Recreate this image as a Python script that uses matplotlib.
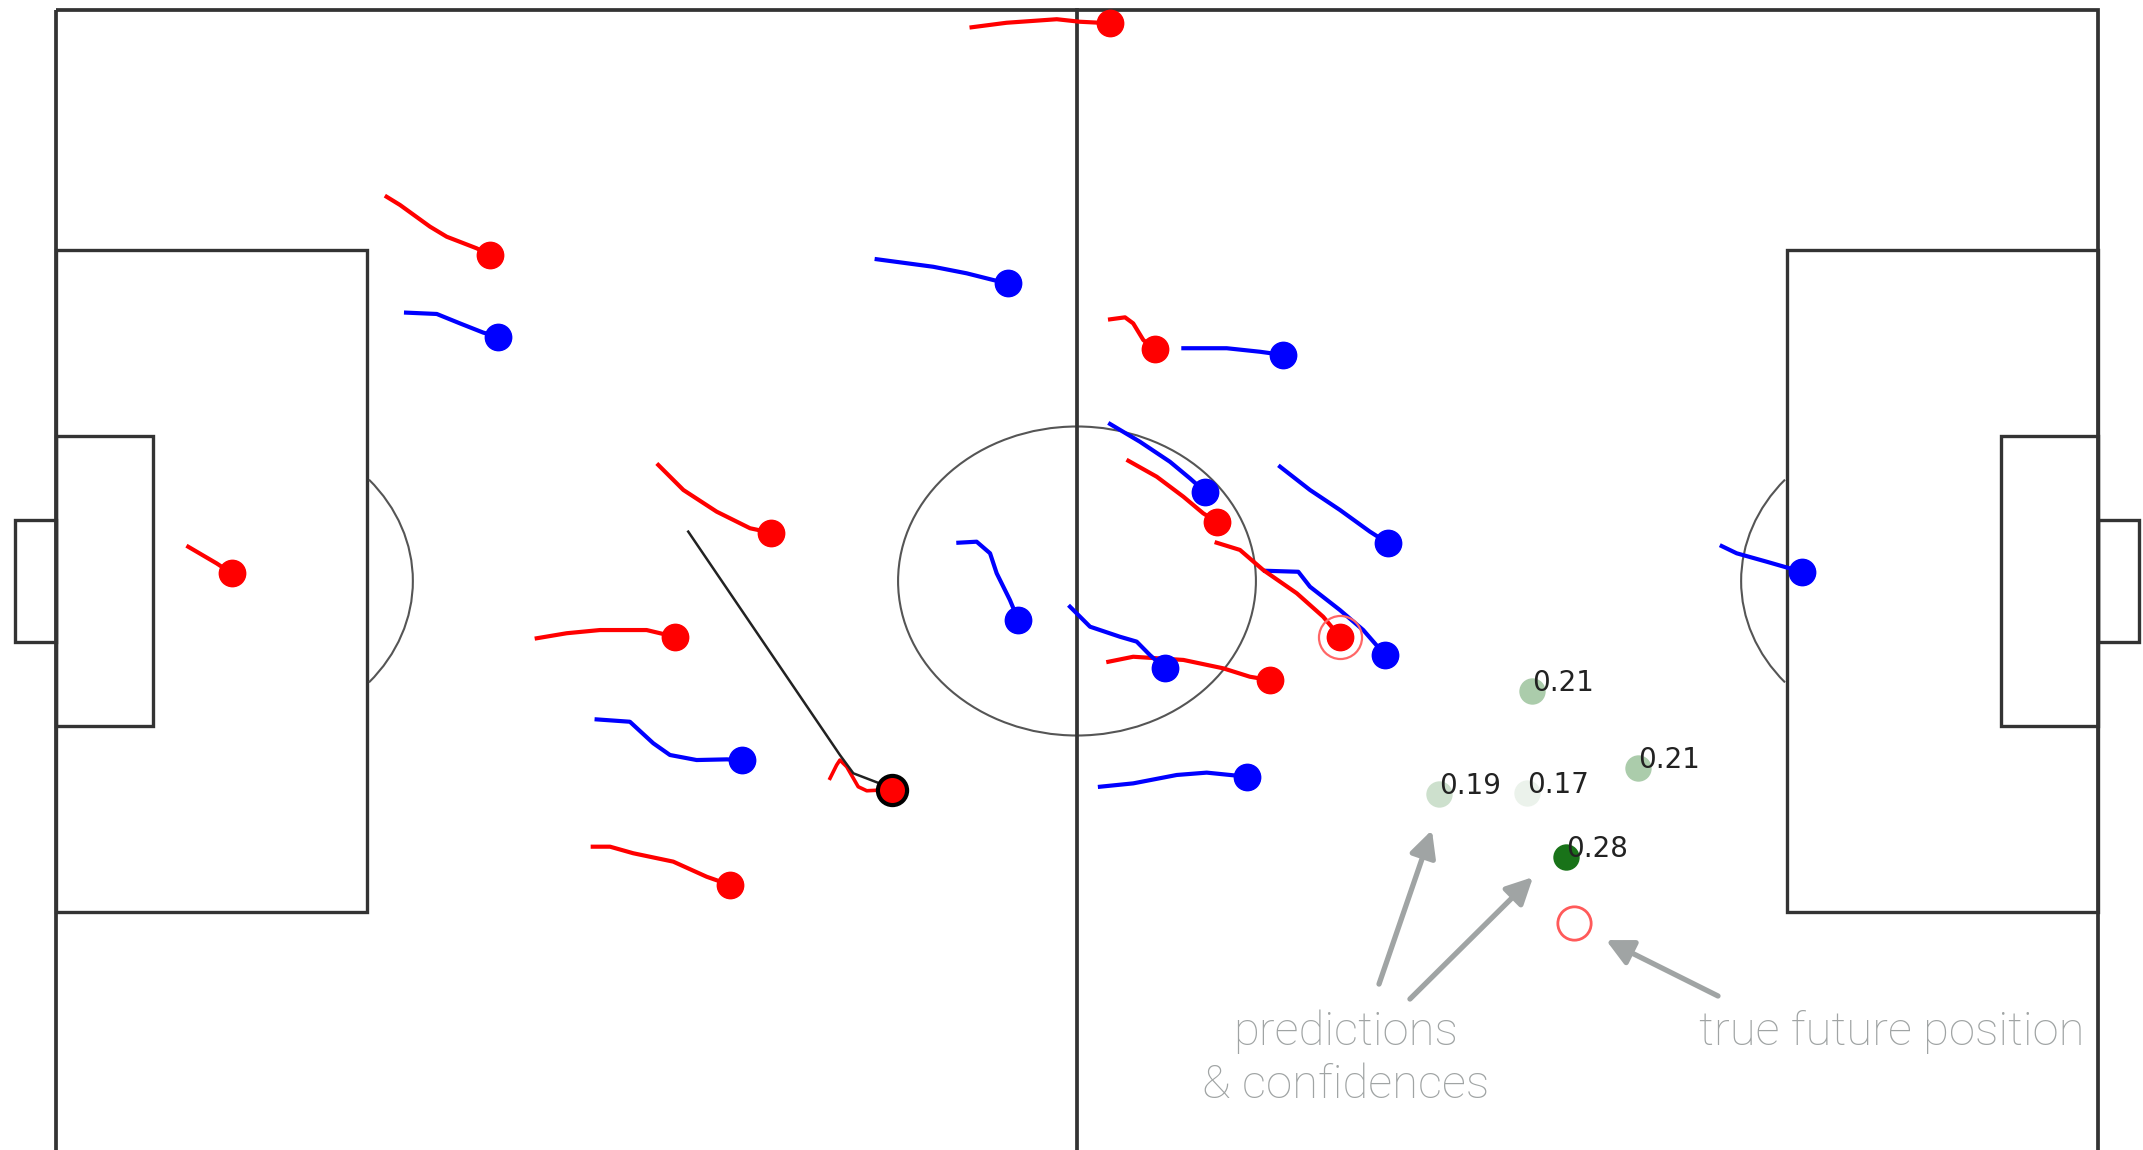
import matplotlib.pyplot as plt
from matplotlib.patches import Rectangle, Arc, Circle

# pitch size (m) and markings
pitch_len = 105.0
pitch_wid = 68.0
box_depth = 16.0
box_wid = 39.4
six_depth = 5.0
six_wid = 17.3
goal_wid = 7.3
goal_depth = 2.1
circle_r = 9.2
spot_dist = 9.15

# player tracks (m), last point = current position
red_tracks = [
    [(17.00, 11.12), (17.69, 11.61), (19.23, 12.90), (20.09, 13.50), (21.63, 14.19), (22.32, 14.59)],
    [(30.97, 27.09), (32.26, 28.58), (33.97, 29.87), (35.69, 30.86), (36.75, 31.12)],
    [(24.72, 37.41), (26.26, 37.11), (27.97, 36.92), (30.37, 36.92), (31.06, 37.11), (31.83, 37.32)],
    [(27.60, 49.82), (28.49, 49.82), (29.68, 50.21), (31.74, 50.71), (33.46, 51.61), (34.66, 52.10)],
    [(54.20, 18.42), (54.97, 18.30), (55.39, 18.66), (55.91, 19.65), (56.51, 20.20)],
    [(55.14, 26.84), (56.60, 27.79), (57.97, 28.98), (58.99, 29.97), (59.68, 30.47)],
    [(54.11, 38.81), (55.39, 38.51), (57.97, 38.70), (60.02, 39.20), (61.39, 39.70), (62.42, 39.90)],
    [(6.80, 31.96), (8.26, 32.95), (9.03, 33.54)],
    [(47.08, 1.03), (48.88, 0.76), (51.46, 0.55), (52.65, 0.70), (54.20, 0.79)],
]
blue_tracks = [
    [(18.00, 18.02), (19.58, 18.10), (20.77, 18.66), (21.97, 19.21), (22.74, 19.45)],
    [(27.80, 42.24), (29.51, 42.38), (30.71, 43.66), (31.57, 44.36), (32.94, 44.66), (34.49, 44.62), (35.26, 44.66)],
    [(42.20, 14.84), (45.11, 15.29), (46.83, 15.68), (48.20, 16.08), (48.97, 16.27)],
    [(57.97, 20.14), (60.20, 20.14), (61.91, 20.35), (63.11, 20.54)],
    [(54.20, 24.65), (55.74, 25.71), (57.28, 26.90), (58.31, 27.89), (59.08, 28.68)],
    [(46.40, 31.72), (47.34, 31.66), (48.03, 32.35), (48.37, 33.54), (49.05, 35.13), (49.48, 36.32)],
    [(62.94, 27.19), (64.48, 28.58), (66.02, 29.77), (67.56, 31.06), (68.51, 31.76)],
    [(62.17, 33.39), (63.88, 33.45), (64.48, 34.34), (66.02, 35.73), (67.22, 36.92), (68.34, 38.41)],
    [(52.14, 35.53), (53.17, 36.72), (54.71, 37.32), (55.57, 37.61), (56.25, 38.41), (57.02, 39.20)],
    [(53.68, 46.25), (55.39, 46.05), (57.63, 45.55), (59.17, 45.41), (60.37, 45.55), (61.22, 45.65)],
    [(85.65, 31.92), (86.42, 32.35), (87.96, 32.85), (89.76, 33.45)],
]
# player on the ball
carrier_track = [(39.80, 45.75), (40.14, 44.96), (40.31, 44.66), (40.66, 45.06), (41.25, 46.25),
                 (41.69, 46.49), (42.37, 46.45), (42.97, 46.45)]
ball_track = [(32.51, 31.06), (40.31, 44.36), (41.00, 45.45), (42.80, 46.25), (42.97, 46.45)]
# player whose future is predicted
target_track = [(59.68, 31.72), (60.88, 32.15), (62.08, 33.35), (63.80, 34.73), (65.16, 36.13), (66.02, 37.32)]

pred_x = [75.90, 81.35, 71.11, 75.64, 77.64]
pred_y = [40.55, 45.14, 46.68, 46.62, 50.44]
pred_conf = [0.21, 0.21, 0.19, 0.17, 0.28]
true_pos = (78.05, 54.37)

line_col = '#333333'
note_col = '#a0a4a4'

fig = plt.figure(figsize=(21.43, 11.5), dpi=100)
ax = fig.add_axes([0, 0, 1, 1])

# pitch
ax.add_patch(Rectangle((0, 0), pitch_len, pitch_wid, fill=False, ec=line_col, lw=2.7))
ax.plot([pitch_len / 2, pitch_len / 2], [0, pitch_wid], color=line_col, lw=2.7)
ax.add_patch(Circle((pitch_len / 2, pitch_wid / 2), circle_r, fill=False, ec='#555555', lw=1.5))
for side in [0, 1]:
    if side == 0:
        bx, sx, gx = 0, 0, -goal_depth
        spot = spot_dist
        t1, t2 = -41, 41
    else:
        bx, sx, gx = pitch_len - box_depth, pitch_len - six_depth, pitch_len
        spot = pitch_len - spot_dist
        t1, t2 = 139, 221
    ax.add_patch(Rectangle((bx, (pitch_wid - box_wid) / 2), box_depth, box_wid, fill=False, ec=line_col, lw=2.4))
    ax.add_patch(Rectangle((sx, (pitch_wid - six_wid) / 2), six_depth, six_wid, fill=False, ec=line_col, lw=2.4))
    ax.add_patch(Rectangle((gx, (pitch_wid - goal_wid) / 2), goal_depth, goal_wid, fill=False, ec=line_col, lw=2.4))
    ax.add_patch(Arc((spot, pitch_wid / 2), 2 * circle_r, 2 * circle_r, theta1=t1, theta2=t2, ec='#555555', lw=1.5))

# tracks + players
for trk in red_tracks:
    xs = [p[0] for p in trk]
    ys = [p[1] for p in trk]
    ax.plot(xs, ys, color='red', lw=3, zorder=3)
    ax.plot(xs[-1], ys[-1], 'o', color='red', ms=19, zorder=4)
for trk in blue_tracks:
    xs = [p[0] for p in trk]
    ys = [p[1] for p in trk]
    ax.plot(xs, ys, color='blue', lw=3, zorder=3)
    ax.plot(xs[-1], ys[-1], 'o', color='blue', ms=19, zorder=4)

xs = [p[0] for p in target_track]
ys = [p[1] for p in target_track]
ax.plot(xs, ys, color='red', lw=3, zorder=3)
ax.plot(xs[-1], ys[-1], 'o', color='red', ms=19, zorder=4)
ax.plot(xs[-1], ys[-1], 'o', mfc='none', mec='#ff6666', ms=31, mew=1.6, zorder=4)

xs = [p[0] for p in carrier_track]
ys = [p[1] for p in carrier_track]
ax.plot(xs, ys, color='red', lw=2.6, zorder=3)
bx_ = [p[0] for p in ball_track]
by_ = [p[1] for p in ball_track]
ax.plot(bx_, by_, color='#222222', lw=1.8, zorder=3)
ax.plot(xs[-1], ys[-1], 'o', color='red', mec='black', mew=3, ms=21, zorder=5)

# predictions, alpha from confidence
for x, y, c in zip(pred_x, pred_y, pred_conf):
    a = 0.9 * ((c - 0.15) / 0.13) ** 1.3
    ax.plot(x, y, 'o', color='darkgreen', alpha=a, ms=19, mew=0, zorder=4)
    ax.text(x, y, '%.2f' % c, fontsize=20, color='#222222', zorder=5)
ax.plot(true_pos[0], true_pos[1], 'o', mfc='none', mec='#ff5a5a', ms=24, mew=2, zorder=4)

# notes
ax.text(66.33, 62.4, 'predictions\n& confidences', ha='center', va='center', color=note_col,
        fontsize=34, family='Roboto', fontweight='light', linespacing=1.25)
ax.text(94.41, 61.6, 'true future position', ha='center', va='baseline', color=note_col,
        fontsize=34, family='Roboto', fontweight='light')
aprops = dict(arrowstyle='-|>', color=note_col, lw=3.8, mutation_scale=40, shrinkA=0, shrinkB=0)
ax.annotate('', xy=(70.75, 48.83), xytext=(68.03, 58.00), arrowprops=aprops)
ax.annotate('', xy=(75.95, 51.63), xytext=(69.62, 58.89), arrowprops=aprops)
ax.annotate('', xy=(79.70, 55.38), xytext=(85.46, 58.71), arrowprops=aprops)

ax.set_xlim(-2.879, 107.314)
ax.set_ylim(67.88, -0.595)
ax.axis('off')
plt.savefig('out.png', dpi=100)
